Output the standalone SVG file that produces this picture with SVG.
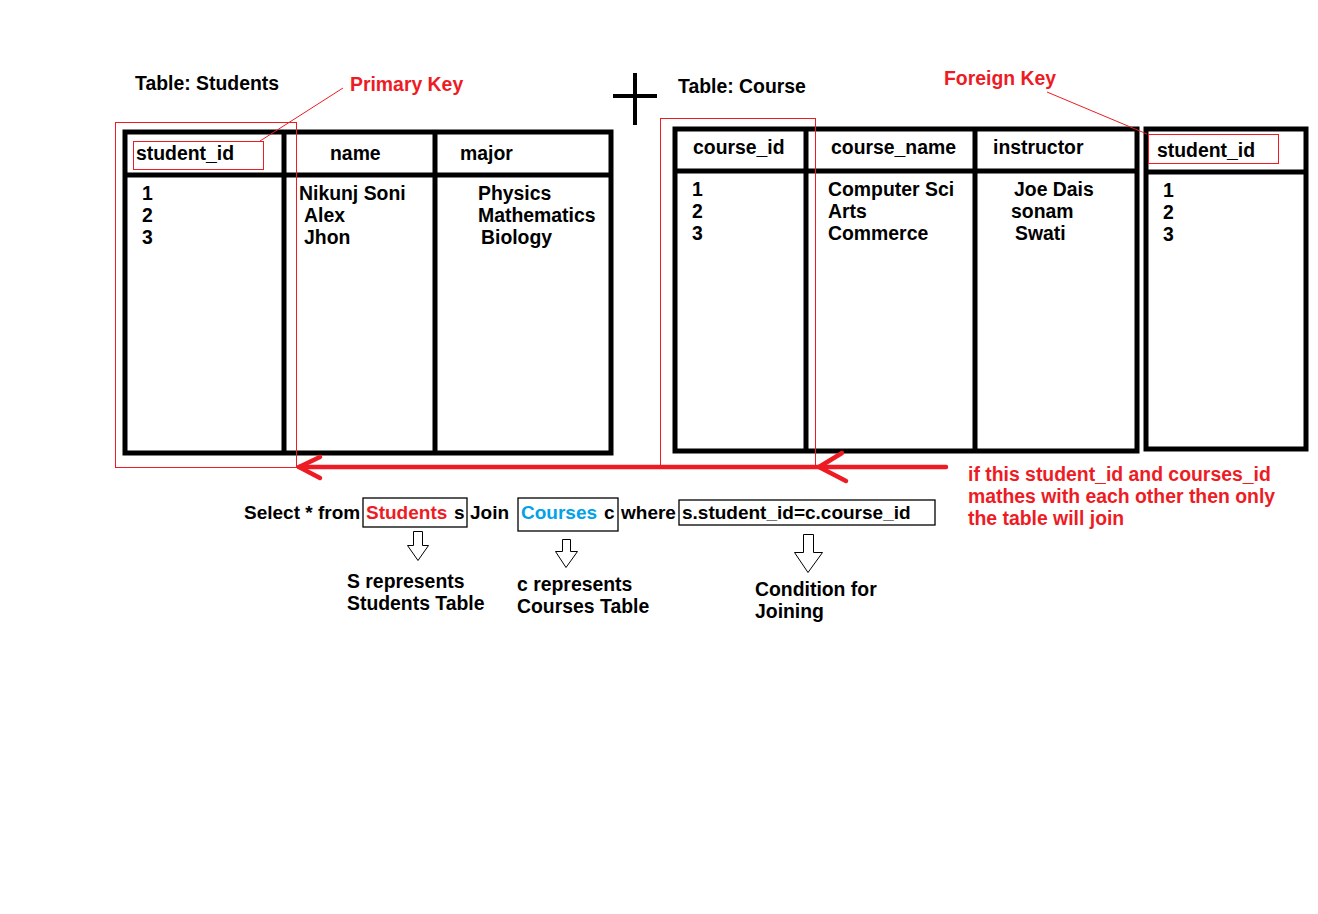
<svg xmlns="http://www.w3.org/2000/svg" width="1318" height="914" viewBox="0 0 1318 914">
<style>
text{font-family:"Liberation Sans",Arial,sans-serif;font-weight:bold;font-size:19.4px;fill:#000}
.red{fill:#ed1c24}
.blue{fill:#00a2e8}
.q{font-size:19px}
.tbl{fill:none;stroke:#000;stroke-width:5}
.thin{fill:none;stroke:#ed1c24;stroke-width:1}
.box{fill:none;stroke:#000;stroke-width:1.3}
.harrow{fill:#fff;stroke:#000;stroke-width:1}
</style>
<rect width="1318" height="914" fill="#fff"/>

<g id="students-table">
<text x="135" y="90">Table: Students</text>
<rect class="tbl" x="125" y="132" width="486" height="321"/>
<line class="tbl" x1="125" y1="175" x2="611" y2="175"/>
<line class="tbl" x1="284" y1="132" x2="284" y2="453"/>
<line class="tbl" x1="435" y1="132" x2="435" y2="453"/>
<text x="136" y="160">student_id</text>
<text x="330" y="160">name</text>
<text x="460" y="160">major</text>
<text x="142" y="200">1</text>
<text x="142" y="222">2</text>
<text x="142" y="244">3</text>
<text x="299" y="200">Nikunj Soni</text>
<text x="304" y="222">Alex</text>
<text x="304" y="244">Jhon</text>
<text x="478" y="200">Physics</text>
<text x="478" y="222">Mathematics</text>
<text x="481" y="244">Biology</text>
<rect class="thin" x="115.5" y="122.5" width="181" height="345"/>
<rect class="thin" x="133.5" y="141.5" width="130" height="28"/>
</g>

<g id="primary-key">
<text class="red" x="350" y="91">Primary Key</text>
<line class="thin" x1="343" y1="88" x2="260" y2="141"/>
</g>

<g id="plus">
<line x1="635" y1="73" x2="635" y2="125" stroke="#000" stroke-width="4"/>
<line x1="613" y1="96" x2="657" y2="96" stroke="#000" stroke-width="4"/>
</g>

<g id="course-table">
<text x="678" y="93">Table: Course</text>
<rect class="tbl" x="675" y="129" width="462" height="322"/>
<line class="tbl" x1="675" y1="171" x2="1137" y2="171"/>
<line class="tbl" x1="806" y1="129" x2="806" y2="451"/>
<line class="tbl" x1="975" y1="129" x2="975" y2="451"/>
<text x="693" y="154">course_id</text>
<text x="831" y="154">course_name</text>
<text x="993" y="154">instructor</text>
<text x="692" y="196">1</text>
<text x="692" y="218">2</text>
<text x="692" y="240">3</text>
<text x="828" y="196">Computer Sci</text>
<text x="828" y="218">Arts</text>
<text x="828" y="240">Commerce</text>
<text x="1014" y="196">Joe Dais</text>
<text x="1011" y="218">sonam</text>
<text x="1015" y="240">Swati</text>
<rect class="thin" x="660.5" y="118.5" width="155" height="348"/>
</g>

<g id="fk-table">
<rect class="tbl" x="1146" y="129" width="160" height="320"/>
<line class="tbl" x1="1146" y1="172" x2="1306" y2="172"/>
<text x="1157" y="157">student_id</text>
<text x="1163" y="197">1</text>
<text x="1163" y="219">2</text>
<text x="1163" y="241">3</text>
<rect class="thin" x="1148.5" y="134.5" width="130" height="29"/>
</g>

<g id="foreign-key">
<text class="red" x="944" y="85">Foreign Key</text>
<line class="thin" x1="1047" y1="92" x2="1147" y2="134"/>
</g>

<g id="connectors">
<line x1="946" y1="467" x2="299" y2="467" stroke="#ed1c24" stroke-width="4.5" stroke-linecap="round"/>
<polyline points="320,457 299,467 320,478" fill="none" stroke="#ed1c24" stroke-width="4.5" stroke-linecap="round" stroke-linejoin="round"/>
<polyline points="842,453 819,467 846,481" fill="none" stroke="#ed1c24" stroke-width="4.5" stroke-linecap="round" stroke-linejoin="round"/>
<polygon class="harrow" points="413.5,531.5 422.5,531.5 422.5,545.5 428.5,545.5 418,560.5 407.5,545.5 413.5,545.5"/>
<polygon class="harrow" points="562.5,539.5 570.5,539.5 570.5,551.5 577.5,551.5 566,567.5 555.5,551.5 562.5,551.5"/>
<polygon class="harrow" points="803.5,534.5 813.5,534.5 813.5,552.5 822.5,552.5 808,572.5 794.5,552.5 803.5,552.5"/>
</g>

<g id="query">
<text class="q" x="244" y="519">Select * from</text>
<rect class="box" x="363" y="498" width="104" height="29"/>
<text class="red q" x="366" y="519">Students</text>
<text class="q" x="454" y="519">s</text>
<text class="q" x="470" y="519">Join</text>
<rect class="box" x="518" y="498" width="100" height="33"/>
<text class="blue q" x="521" y="519">Courses</text>
<text class="q" x="604" y="519">c</text>
<text class="q" x="621" y="519">where</text>
<rect class="box" x="679" y="500" width="256" height="25"/>
<text class="q" x="682" y="519">s.student_id=c.course_id</text>
</g>

<g id="labels">
<text x="347" y="588">S represents</text>
<text x="347" y="610">Students Table</text>
<text x="517" y="591">c represents</text>
<text x="517" y="613">Courses Table</text>
<text x="755" y="596">Condition for</text>
<text x="755" y="618">Joining</text>
</g>

<g id="note">
<text class="red" x="968" y="481">if this student_id and courses_id</text>
<text class="red" x="968" y="503">mathes with each other then only</text>
<text class="red" x="968" y="525">the table will join</text>
</g>
</svg>
